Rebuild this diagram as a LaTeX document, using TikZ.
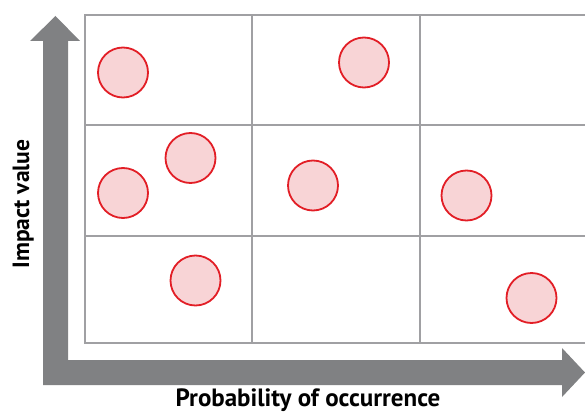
\documentclass[tikz,border=0pt]{standalone}
\usepackage{fontspec}
\setmainfont{PT Sans}
\usepackage{tikz}
\usepackage{xcolor}
\usetikzlibrary{positioning}
\definecolor{cArrow}{RGB}{128,129,131}
\definecolor{cGrid}{RGB}{160,160,163}
\definecolor{cRisk}{RGB}{226,30,38}
\definecolor{cRiskFill}{RGB}{248,212,214}
\tikzset{
	axisarrow/.style={fill=cArrow, draw=none},
	gridline/.style ={draw=cGrid, line width=2pt},
	risk/.style     ={circle, draw=cRisk, line width=1.8pt, fill=cRiskFill, minimum size=50pt, inner sep=0pt},
	axislabel/.style={font=\bfseries\fontsize{23.5}{26}\selectfont, inner sep=0pt},
}
\begin{document}
\begin{tikzpicture}[x=1pt, y=-1pt]
		\useasboundingbox (0,0) rectangle (585,414);
		% grid of the matrix
		\draw[gridline] (85,15) rectangle (588,343);
		\foreach \x in {252,420} \draw[gridline] (\x,15) -- (\x,343);
		\foreach \y in {125,236} \draw[gridline] (85,\y) -- (588,\y);
		% axes
		\fill[axisarrow] (43,385) -- (43,41) -- (30,41) -- (55.5,16) -- (80,41) -- (68,41) -- (68,360)
			-- (562,360) -- (562,348) -- (585,372.5) -- (562,397) -- (562,385) -- cycle;
		\node[axislabel, anchor=base, font=\bfseries\fontsize{25}{28}\selectfont] (xlab) at (308,406) {Probability of occurrence};
		\node[axislabel, anchor=base, rotate=90] (ylab) at (29,204) {Impact value};
		% risks
		\node[risk] (r1) at (123,72.5) {};
		\node[risk] (r2) at (364,62.5) {};
		\node[risk] (r3) at (190.5,158) {};
		\node[risk] (r4) at (123,193) {};
		\node[risk] (r5) at (313,185.5) {};
		\node[risk] (r6) at (466.5,195.5) {};
		\node[risk] (r7) at (195.5,280.5) {};
		\node[risk] (r8) at (531.5,298) {};
\end{tikzpicture}
\end{document}
